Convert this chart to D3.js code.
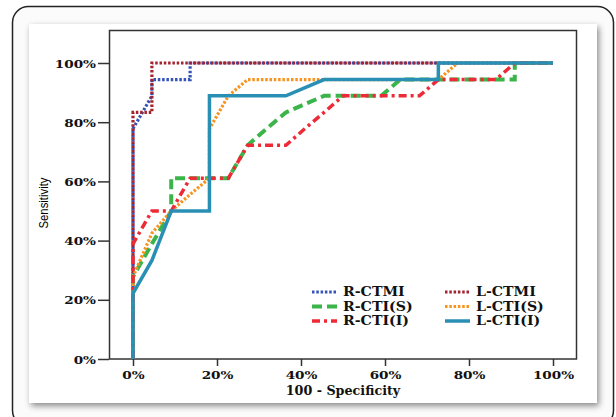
<!DOCTYPE html>
<html>
<head>
<meta charset="utf-8">
<script src="https://cdn.jsdelivr.net/npm/d3@7"></script>
<style>
  body { margin: 0; background: #fff; }
  svg { display: block; }
</style>
</head>
<body>
<svg id="chart"></svg>
<script>
// ROC points: [100 - specificity %, sensitivity %]
var rCtmi = [[0, 0], [0, 77.8], [4.5, 88.9], [4.5, 94.4], [13.6, 94.4], [13.6, 100], [100, 100]];
var lCtmi = [[0, 0], [0, 83.3], [4.5, 83.3], [4.5, 100], [100, 100]];
var rCtiS = [[0, 0], [0, 27.8], [4.5, 38.9], [9.1, 50], [9.1, 61.1], [22.7, 61.1], [27.3, 72.2],
             [31.8, 77.8], [36.4, 83.3], [45.5, 88.9], [59.1, 88.9], [63.6, 94.4], [90.9, 94.4],
             [90.9, 100], [100, 100]];
var lCtiS = [[0, 0], [0, 27.8], [4.5, 42.5], [9.1, 50], [13.6, 55.6], [18.2, 61.1], [18.2, 77.8],
             [22.7, 88.9], [27.3, 94.4], [72.7, 94.4], [77.3, 100], [100, 100]];
var rCtiI = [[0, 0], [0, 38.9], [4.5, 50], [9.1, 50], [13.6, 61.1], [22.7, 61.1], [27.3, 72.2],
             [36.4, 72.2], [40.9, 77.8], [45.5, 83.3], [50, 88.9], [68.2, 88.9], [72.7, 94.4],
             [86.4, 94.4], [90.9, 100], [100, 100]];
var lCtiI = [[0, 0], [0, 22.2], [4.5, 33.3], [9.1, 50], [18.2, 50], [18.2, 88.9], [36.4, 88.9],
             [45.5, 94.4], [72.7, 94.4], [72.7, 100], [100, 100]];

var seriesNames = ["R-CTMI", "L-CTMI", "R-CTI(S)", "L-CTI(S)", "R-CTI(I)", "L-CTI(I)"];
var seriesData = [rCtmi, lCtmi, rCtiS, lCtiS, rCtiI, lCtiI];
var tickValues = [0, 20, 40, 60, 80, 100];

var styles = [
  { color: "#3554b8", width: 3.2, dash: "2.5,1.8", offset: 2 },
  { color: "#a3232f", width: 3.2, dash: "2.5,1.8", offset: 0 },
  { color: "#3bb44a", width: 4, dash: "10,5", offset: 0 },
  { color: "#f7931e", width: 3.2, dash: "2.5,1.8", offset: 0 },
  { color: "#ee2a36", width: 3.5, dash: "8,4,3,4", offset: 0 },
  { color: "#2a8fb5", width: 3.5, dash: null, offset: 0 }
];

var W = 616, H = 417;
var stretch = 1.18; // the lettering in the figure is drawn wide
var serif = "'DejaVu Serif', serif";

var svg = d3.select("#chart").attr("width", W).attr("height", H);

var defs = svg.append("defs");
var f = defs.append("filter").attr("id", "shadow")
  .attr("x", "-5%").attr("y", "-5%").attr("width", "110%").attr("height", "110%");
f.append("feDropShadow").attr("dx", 2).attr("dy", 3).attr("stdDeviation", 3)
  .attr("flood-color", "#000").attr("flood-opacity", 0.45);

// outer card
svg.append("rect")
  .attr("x", 12.5).attr("y", 6.5).attr("width", 601).attr("height", 420)
  .attr("rx", 16).attr("fill", "#fbfbfb").attr("stroke", "#222").attr("stroke-width", 1.5);

// white panel
svg.append("rect")
  .attr("x", 29).attr("y", 24).attr("width", 568).attr("height", 379)
  .attr("fill", "#fff").attr("filter", "url(#shadow)");

var x = d3.scaleLinear().domain([0, 100]).range([133, 553]);
var y = d3.scaleLinear().domain([0, 100]).range([359, 63]);

// frame
svg.append("rect")
  .attr("x", 109.5).attr("y", 30.5).attr("width", 467).attr("height", 328.5)
  .attr("fill", "none").attr("stroke", "#333").attr("stroke-width", 1.5);

var xAxis = svg.append("g")
  .attr("transform", "translate(0,359)")
  .call(d3.axisBottom(x).tickValues(tickValues).tickFormat(function (d) { return d + "%"; })
    .tickSize(7).tickSizeOuter(0).tickPadding(4));

var yAxis = svg.append("g")
  .attr("transform", "translate(109,0)")
  .call(d3.axisLeft(y).tickValues(tickValues).tickFormat(function (d) { return d + "%"; })
    .tickSize(11).tickSizeOuter(0).tickPadding(2));

[xAxis, yAxis].forEach(function (a) {
  a.select(".domain").remove();
  a.selectAll(".tick line").attr("stroke", "#333").attr("stroke-width", 1.5);
  a.selectAll(".tick text")
    .attr("fill", "#111")
    .attr("transform", "scale(" + stretch + ",1)")
    .style("font-family", serif)
    .style("font-weight", "bold")
    .style("font-size", "11.5px");
});
xAxis.selectAll(".tick text").attr("y", 12);
yAxis.selectAll(".tick text").attr("x", -13 / stretch).attr("dy", "0.36em");

// curves
var line = d3.line()
  .x(function (d) { return x(d[0]); })
  .y(function (d) { return y(d[1]); });

svg.append("g").selectAll("path")
  .data(seriesData)
  .enter()
  .append("path")
  .attr("d", line)
  .attr("fill", "none")
  .attr("stroke", function (d, i) { return styles[i].color; })
  .attr("stroke-width", function (d, i) { return styles[i].width; })
  .attr("stroke-dasharray", function (d, i) { return styles[i].dash; })
  .attr("stroke-dashoffset", function (d, i) { return styles[i].offset; })
  .attr("stroke-linejoin", "miter");

// legend
var legend = svg.append("g");
seriesNames.forEach(function (name, i) {
  var col = i % 2, row = Math.floor(i / 2);
  var lx = col === 0 ? 312 : 445;
  var ly = 292 + row * 14.5;
  legend.append("line")
    .attr("x1", lx).attr("x2", lx + 25).attr("y1", ly).attr("y2", ly)
    .attr("stroke", styles[i].color)
    .attr("stroke-width", styles[i].width)
    .attr("stroke-dasharray", styles[i].dash);
  legend.append("text")
    .attr("transform", "translate(" + (lx + 31) + "," + ly + ") scale(" + stretch + ",1)")
    .attr("dy", "0.36em")
    .attr("fill", "#111")
    .style("font-family", serif)
    .style("font-weight", "bold")
    .style("font-size", "12px")
    .text(name);
});

// axis titles
svg.append("text")
  .attr("transform", "translate(343,395) scale(1.06,1)")
  .attr("text-anchor", "middle")
  .attr("fill", "#111")
  .style("font-family", serif)
  .style("font-weight", "bold")
  .style("font-size", "12px")
  .text("100 - Specificity");

svg.append("text")
  .attr("transform", "translate(48,203) rotate(-90)")
  .attr("text-anchor", "middle")
  .attr("fill", "#000")
  .style("font-family", "'Liberation Sans Narrow', 'Liberation Sans', sans-serif")
  .style("font-size", "12.5px")
  .attr("textLength", 51)
  .attr("lengthAdjust", "spacingAndGlyphs")
  .text("Sensitivity");
</script>
</body>
</html>
